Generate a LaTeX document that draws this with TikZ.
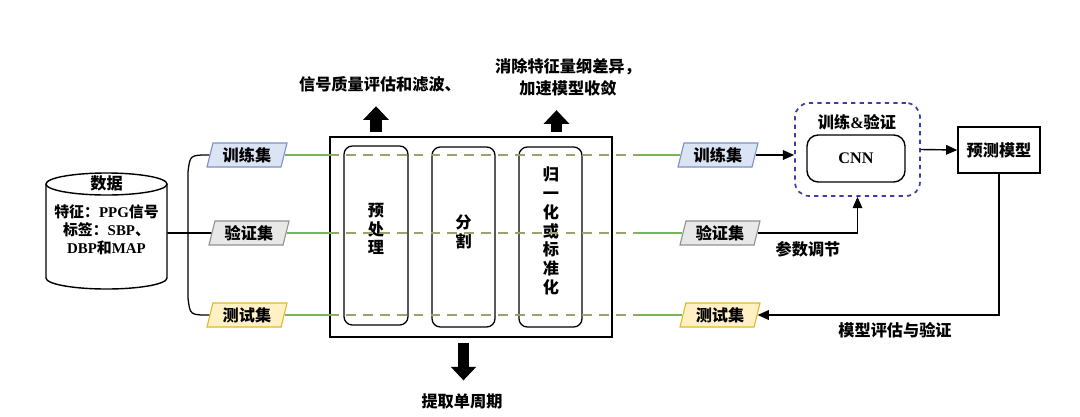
\documentclass[tikz,border=0pt]{standalone}
\usepackage{fontspec}
\setmainfont{Liberation Serif}
\newfontfamily\cjk{Noto Sans CJK SC}
\usetikzlibrary{shapes.geometric, arrows.meta, positioning, calc}

\definecolor{trainfill}{RGB}{219,228,244}
\definecolor{trainedge}{RGB}{125,145,195}
\definecolor{valfill}{RGB}{232,232,232}
\definecolor{valedge}{RGB}{145,145,145}
\definecolor{testfill}{RGB}{255,241,196}
\definecolor{testedge}{RGB}{225,185,45}
\definecolor{linegreen}{RGB}{120,180,90}
\definecolor{dashgreen}{RGB}{150,165,110}
\definecolor{boxblue}{RGB}{60,60,170}

\tikzset{
  lbl/.style={font=\cjk\bfseries\fontsize{11.5}{15.6}\selectfont, inner sep=1pt, align=center},
  vtext/.style={font=\cjk\bfseries\fontsize{11.5}{13.4}\selectfont, inner sep=0pt, align=center},
  dataset/.style={trapezium, trapezium left angle=72, trapezium right angle=108, trapezium stretches body,
    draw, line width=0.8pt, minimum width=2.0cm, minimum height=0.6cm, lbl},
  stepbox/.style={draw, rounded corners=6pt, line width=0.9pt, minimum width=1.6cm, minimum height=4.5cm},
  blockarr/.style={line width=2.8mm, -{Triangle[width=6.2mm,length=3.4mm]}},
  conn/.style={line width=1pt, -{Triangle[width=2.4mm,length=2.8mm]}},
  greenline/.style={linegreen, line width=0.8pt},
  greendash/.style={dashgreen, line width=0.9pt, dash pattern=on 7pt off 5pt},
}

\begin{document}
\begin{tikzpicture}[x=0.025cm, y=-0.025cm]
  \useasboundingbox (0,0) rectangle (1080,416);

  % data source (drawn as a cylinder)
  \node[minimum width=3.025cm, minimum height=2.9cm, inner sep=0pt] (data) at (106.5,231) {};
  \draw[line width=1pt] (46,184) -- (46,278) arc[start angle=180, end angle=0, x radius=60.5, y radius=11] -- (167,184);
  \draw[line width=1pt] (106.5,184) ellipse [x radius=60.5, y radius=11];
  \node[lbl] (datatitle) at (106.5,183) {数据};
  \node[lbl, font=\cjk\bfseries\fontsize{10.6}{12.8}\selectfont] (datatext) at (106.5,230)
    {特征：{\rmfamily PPG}信号\\标签：{\rmfamily SBP}、\\{\rmfamily DBP}和{\rmfamily MAP}};

  % split into three sets
  \node[dataset, fill=trainfill, draw=trainedge] (trainL) at (247,155) {训练集};
  \node[dataset, fill=valfill, draw=valedge] (valL) at (249,233) {验证集};
  \node[dataset, fill=testfill, draw=testedge] (testL) at (247,315) {测试集};

  \draw[line width=1.3pt] (data.east |- valL) -- (valL.west);
  \draw[line width=0.9pt] (trainL.west) .. controls (190,155) .. (188,172) -- (188,298)
    .. controls (190,315) .. (testL.west);

  % preprocessing block
  \node[draw, line width=1pt, minimum width=7.05cm, minimum height=5cm] (prep) at (471,237) {};
  \node[stepbox, minimum height=4.475cm] (pre) at (376,235.5) {};
  \node[stepbox, minimum width=1.575cm] (seg) at (463.5,237) {};
  \node[stepbox, minimum width=1.575cm] (norm) at (550.5,237) {};
  \node[vtext] (pretext) at (376,229) {预\\处\\理};
  \node[vtext] (segtext) at (463.5,232) {分\\割};
  \node[vtext] (normtext) at (551,231) {归\\一\\化\\或\\标\\准\\化};

  % right side sets
  \node[dataset, fill=trainfill, draw=trainedge] (trainR) at (718,155) {训练集};
  \node[dataset, fill=valfill, draw=valedge] (valR) at (720,233) {验证集};
  \node[dataset, fill=testfill, draw=testedge] (testR) at (720,315) {测试集};

  \coordinate (dashend) at (638,0);
  \foreach \l/\r in {trainL/trainR, valL/valR, testL/testR} {
    \draw[greenline] (\l.east) -- (\l.east -| prep.west);
    \draw[greendash] (\l.east -| prep.west) -- (\l.east -| dashend);
    \draw[greenline] (\l.east -| dashend) -- (\r.west);
  }

  % notes on the steps
  \node[lbl] (prenote) at (380,84) {信号质量评估和滤波、};
  \node[lbl] (normnote) at (568,77) {消除特征量纲差异，\\加速模型收敛};
  \node[lbl] (segnote) at (462,401) {提取单周期};
  \draw[blockarr, shorten <=2.8pt, shorten >=9pt] (prep.north -| pre) -- (pre |- prenote.south);
  \draw[blockarr, shorten <=2.8pt, shorten >=9pt] ($(prep.north -| norm)+(6,0)$) -- ($(norm |- normnote.south)+(6,0)$);
  \draw[blockarr, shorten <=4pt, shorten >=8pt] (prep.south -| seg) -- (seg |- segnote.north);

  % model
  \node[draw=boxblue, dashed, line width=1.2pt, rounded corners=10pt,
        minimum width=3.125cm, minimum height=2.325cm] (trainval) at (857.5,149.5) {};
  \node[lbl] (tvtitle) at (857,122) {训练{\rmfamily\&}验证};
  \node[draw, line width=1pt, rounded corners=8pt, minimum width=2.45cm, minimum height=1.175cm,
        font=\rmfamily\bfseries\fontsize{11.5}{14}\selectfont] (cnn) at (856,158.5) {CNN};
  \node[draw, line width=1pt, minimum width=2.05cm, minimum height=1.15cm, lbl] (pred) at (999,150) {预测模型};

  \draw[conn] (trainR.east) -- (trainR.east -| trainval.west);
  \draw[conn] (trainval.east) -- (pred.west);
  \draw[conn] (valR.east) -| (trainval.south);
  \draw[conn] (pred.south) |- (testR.east);
  \node[lbl] (tune) at (808,249) {参数调节};
  \node[lbl] (evalnote) at (895,330) {模型评估与验证};
\end{tikzpicture}
\end{document}
